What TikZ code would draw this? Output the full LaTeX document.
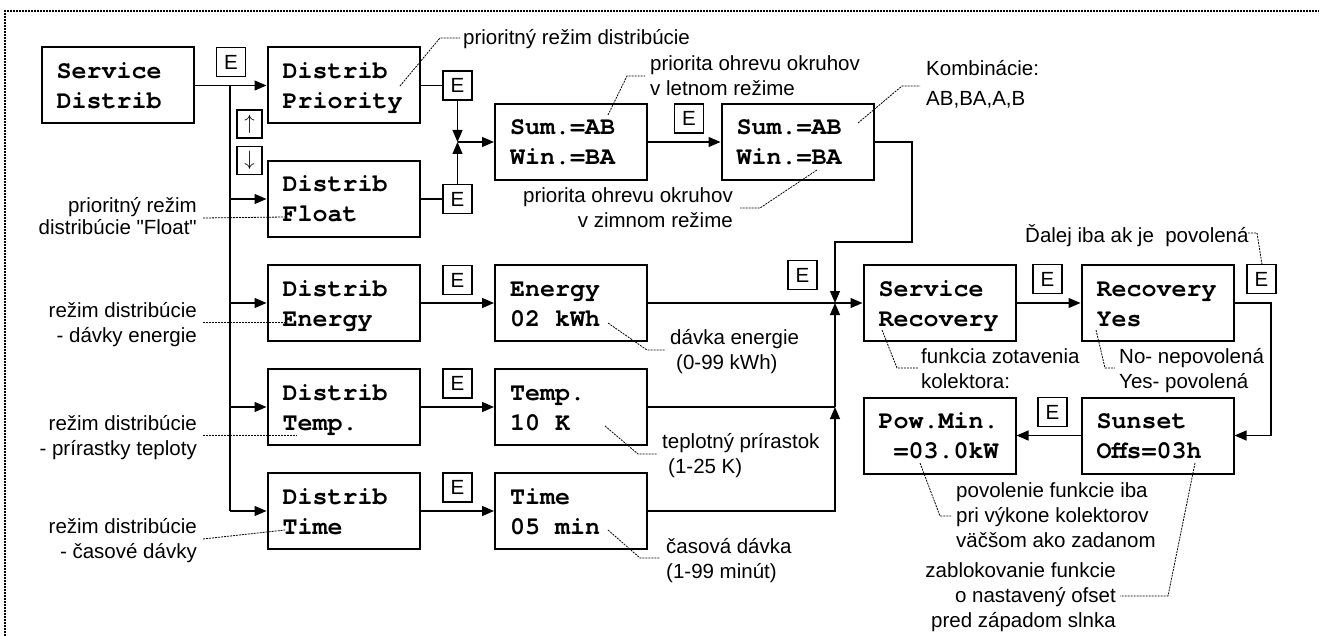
\documentclass[tikz,border=0pt]{standalone}
\usepackage{fontspec}
\setmainfont{Liberation Sans}
\newfontfamily\qfont{Liberation Sans}
\newfontfamily\monofont{TeX Gyre Cursor}
\usetikzlibrary{arrows.meta}
\newcommand{\lft}[1]{\parbox[t]{320pt}{\raggedright #1}}
\newcommand{\rgt}[1]{\parbox[t]{320pt}{\raggedleft #1}}
\newcommand{\bx}[1]{\parbox[t]{122pt}{\raggedright #1}}
\newcommand{\dq}{{\qfont"}}
\begin{document}
\begin{tikzpicture}[x=1pt,y=-1pt,
  disp/.style={draw, line width=2pt, minimum width=152pt, minimum height=76pt, inner xsep=15pt, inner ysep=0pt,
    font=\monofont\bfseries\fontsize{25}{30}\selectfont, text height=20pt, text depth=34pt},
  ebox/.style={draw, line width=1.4pt, minimum width=29pt, minimum height=29pt, inner sep=0pt, font=\fontsize{20.5}{25}\selectfont},
  abox/.style={draw, line width=1.4pt, minimum width=25pt, minimum height=28pt, inner sep=0pt, font=\fontsize{22}{22}\selectfont},
  note/.style={inner sep=0pt, font=\fontsize{20.5}{25}\selectfont},
  note30/.style={inner sep=0pt, font=\fontsize{20.5}{30}\selectfont},
  note22/.style={inner sep=0pt, font=\fontsize{20.5}{22}\selectfont},
  conn/.style={line width=1.2pt},
  arr/.style={conn, -{Triangle[length=12pt,width=10pt]}},
  lead/.style={line width=0.8pt, dash pattern=on 2pt off 1pt},
]
\useasboundingbox (0,0) rectangle (1319,636);
\draw[line width=2pt, dash pattern=on 2pt off 1pt] (5,636) -- (5,11) -- (1319,11);

% display boxes
\node[disp] (sd) at (117.5,85.5) {\bx{Service\\Distrib}};
\node[disp] (dp) at (343.5,85.5) {\bx{Distrib\\Priority}};
\node[disp] (df) at (343.5,199) {\bx{Distrib\\Float}};
\node[disp] (de) at (343.5,303) {\bx{Distrib\\Energy}};
\node[disp] (dt) at (343.5,407) {\bx{Distrib\\Temp.}};
\node[disp] (dm) at (343.5,511) {\bx{Distrib\\Time}};
\node[disp] (s1) at (571,142) {\bx{Sum.=AB\\Win.=BA}};
\node[disp] (s2) at (797.5,142) {\bx{Sum.=AB\\Win.=BA}};
\node[disp] (en) at (571,303) {\bx{Energy\\02 kWh}};
\node[disp] (te) at (571,407) {\bx{Temp.\\10 K}};
\node[disp] (ti) at (571,511) {\bx{Time\\05 min}};
\node[disp] (sr) at (939.5,303) {\bx{Service\\Recovery}};
\node[disp] (ry) at (1157.5,303) {\bx{Recovery\\Yes}};
\node[disp] (su) at (1157.5,435.5) {\bx{Sunset\\Offs=03h}};
\node[disp] (pm) at (939.5,435.5) {\bx{Pow.Min.\\\hspace*{15pt}=03.0kW}};

% E keys
\node[ebox] (e1) at (231,62) {E};
\node[ebox] (e2) at (457.5,85.5) {E};
\node[ebox] (e3) at (457.5,199) {E};
\node[ebox] (e4) at (689,118.5) {E};
\node[ebox] (e5) at (457.5,280) {E};
\node[ebox] (e6) at (457.5,383.5) {E};
\node[ebox] (e7) at (457.5,487.5) {E};
\node[ebox] (e8) at (802.5,275) {E};
\node[ebox] (e9) at (1047.5,279) {E};
\node[ebox] (e10) at (1261.5,279) {E};
\node[ebox] (e11) at (1052.5,412) {E};
\node[abox] (ku) at (249.5,124) {$\uparrow$};
\node[abox] (kd) at (249.5,160.5) {$\downarrow$};

% connectors
\coordinate (j0) at (230,85.5);
\coordinate (j5) at (230,511);
\draw[conn] (sd.east) -- (j0) -- (j5);
\draw[arr] (j0) -- (dp.west);
\draw[arr] (j5) -- (dm.west);
\draw[arr] (df.west -| j0) -- (df.west);
\draw[arr] (de.west -| j0) -- (de.west);
\draw[arr] (dt.west -| j0) -- (dt.west);
\draw[arr] (de.east) -- (en.west);
\draw[arr] (dt.east) -- (te.west);
\draw[arr] (dm.east) -- (ti.west);

\coordinate (jA) at (457.5,142);
\draw[conn] (dp.east) -- (e2.west);
\draw[conn] (df.east) -- (e3.west);
\draw[arr] (e2.south) -- (jA);
\draw[arr] (e3.north) -- (jA);
\draw[arr] (jA) -- (s1.west);
\draw[arr] (s1.east) -- (s2.west);

\coordinate (jB) at (835,303);
\coordinate (jT) at (835,407);
\coordinate (c1) at (912,242);
\draw[arr] (s2.east) -| (c1) -| (jB);
\draw[conn] (en.east) -- (jB);
\draw[conn] (te.east) -- (jT);
\draw[arr] (ti.east) -| (jT);
\draw[arr] (jT) -- (jB);
\draw[arr] (jB) -- (sr.west);
\draw[arr] (sr.east) -- (ry.west);
\coordinate (c2) at (1271,303);
\draw[arr] (ry.east) -- (c2) |- (su.east);
\draw[arr] (su.west) -- (pm.east);

% notes
\node[note, anchor=base west] (n1) at (463,45) {prioritný režim distribúcie};
\node[note, anchor=base west] (n2) at (650,71) {\lft{priorita ohrevu okruhov\\v letnom režime}};
\node[note, anchor=base east] (n3) at (733,203) {\rgt{priorita ohrevu okruhov\\v zimnom režime}};
\node[note30, anchor=base west] (n4) at (926,76) {\lft{Kombinácie:\\AB,BA,A,B}};
\node[note, anchor=base west] (n5) at (1025,243) {Ďalej iba ak je\ \ povolená};
\node[note, anchor=base west] (n6) at (670,344) {\lft{dávka energie\\\hspace*{6pt}(0-99 kWh)}};
\node[note, anchor=base west] (n7) at (662,448) {\lft{teplotný prírastok\\\hspace*{6pt}(1-25 K)}};
\node[note, anchor=base west] (n8) at (666,553) {\lft{časová dávka\\(1-99 minút)}};
\node[note, anchor=base west] (n9) at (921,363) {\lft{funkcia zotavenia\\kolektora:}};
\node[note, anchor=base west] (n10) at (1119,363) {\lft{No- nepovolená\\Yes- povolená}};
\node[note, anchor=base west] (n11) at (956,497) {\lft{povolenie funkcie iba\\pri výkone kolektorov\\väčšom ako zadanom}};
\node[note, anchor=base east] (n12) at (1116,577) {\rgt{zablokovanie funkcie\\o nastavený ofset\\pred západom slnka}};
\node[note22, anchor=base east] (n13) at (197,213) {\rgt{prioritný režim\\distribúcie \dq Float\dq}};
\node[note, anchor=base east] (n14) at (197,317) {\rgt{režim distribúcie\\- dávky energie}};
\node[note, anchor=base east] (n15) at (197,430) {\rgt{režim distribúcie\\- prírastky teploty}};
\node[note, anchor=base east] (n16) at (197,533) {\rgt{režim distribúcie\\- časové dávky}};

% leaders
\draw[lead] (400,86) -- (440,38) -- (460,38);
\draw[lead] (608,115) -- (627,76) -- (645,76);
\draw[lead] (817,170) -- (760,208) -- (740,208);
\draw[lead] (858,123) -- (902,86) -- (920,86);
\draw[lead] (1248,233) -- (1257,233) -- (1262,264.5);
\draw[lead] (608,323) -- (647,350) -- (665,350);
\draw[lead] (605,426) -- (638,454) -- (657,454);
\draw[lead] (608,530) -- (640,558) -- (660,558);
\draw[lead] (882,330) -- (897,368) -- (918,368);
\draw[lead] (1096,330) -- (1105,368) -- (1115,368);
\draw[lead] (920,463) -- (940,516) -- (951,516);
\draw[lead] (1195,463) -- (1168,596) -- (1120,596);
\draw[lead] (203,218) -- (285,217);
\draw[lead] (203,322) -- (285,322);
\draw[lead] (203,435) -- (297,435);
\draw[lead] (203,539) -- (285,530);
\end{tikzpicture}
\end{document}
